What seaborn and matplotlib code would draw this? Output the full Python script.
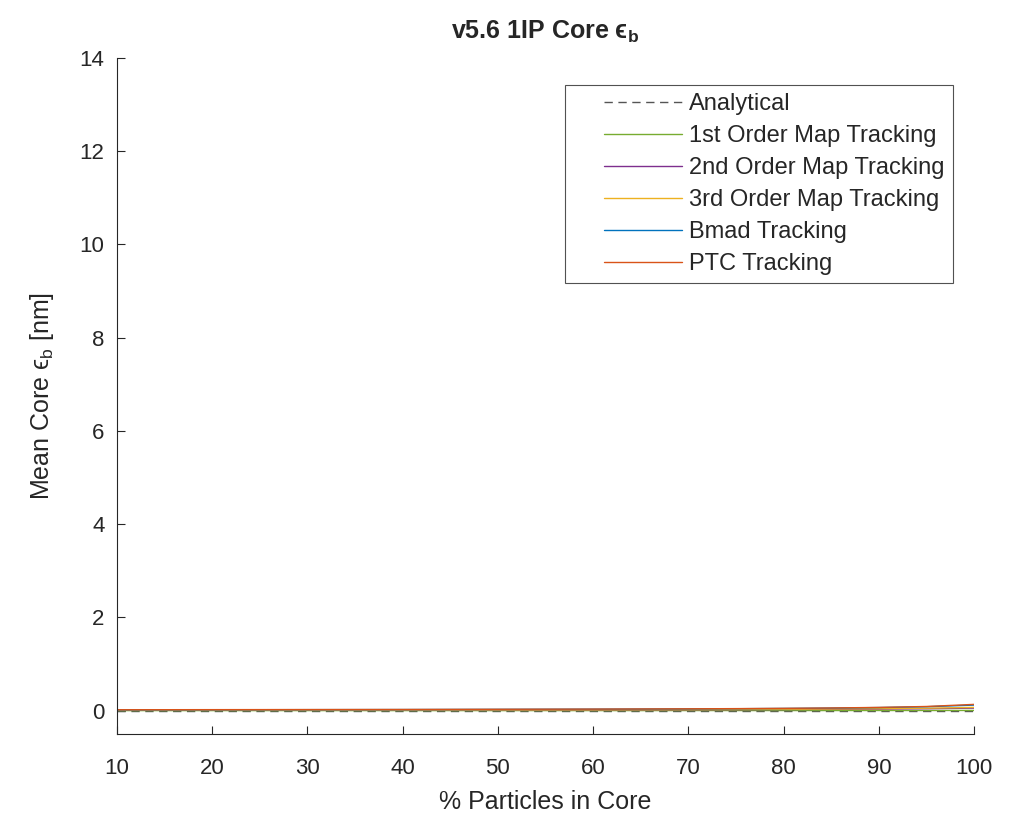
import numpy as np
import pandas as pd
import matplotlib
matplotlib.use("Agg")
import matplotlib.pyplot as plt
from matplotlib.legend_handler import HandlerLine2D
import seaborn as sns

pct = [10, 15, 20, 25, 30, 35, 40, 45, 50, 55, 60, 65, 70, 75, 80, 85, 90, 95, 100]
analytical = [0.000] * 19
first_order = [0.002, 0.002, 0.002, 0.002, 0.002, 0.002, 0.002, 0.002, 0.002, 0.002, 0.002, 0.002, 0.003, 0.003, 0.003, 0.003, 0.004, 0.004, 0.005]
second_order = [0.010, 0.010, 0.011, 0.011, 0.012, 0.012, 0.013, 0.014, 0.015, 0.016, 0.017, 0.018, 0.020, 0.022, 0.025, 0.029, 0.034, 0.042, 0.055]
third_order = [0.012, 0.012, 0.013, 0.013, 0.014, 0.015, 0.016, 0.017, 0.018, 0.019, 0.020, 0.022, 0.024, 0.027, 0.031, 0.036, 0.043, 0.053, 0.070]
bmad = [0.018, 0.019, 0.020, 0.021, 0.022, 0.023, 0.024, 0.026, 0.028, 0.030, 0.032, 0.035, 0.038, 0.042, 0.048, 0.056, 0.067, 0.085, 0.120]
ptc = [0.020, 0.021, 0.022, 0.023, 0.024, 0.025, 0.026, 0.028, 0.030, 0.032, 0.034, 0.037, 0.040, 0.044, 0.050, 0.058, 0.070, 0.090, 0.135]

series = {
    "Analytical": analytical,
    "1st Order Map Tracking": first_order,
    "2nd Order Map Tracking": second_order,
    "3rd Order Map Tracking": third_order,
    "Bmad Tracking": bmad,
    "PTC Tracking": ptc,
}
colors = {
    "Analytical": "#555555",
    "1st Order Map Tracking": "#77AC30",
    "2nd Order Map Tracking": "#7E2F8E",
    "3rd Order Map Tracking": "#EDB120",
    "Bmad Tracking": "#0072BD",
    "PTC Tracking": "#D95319",
}

rows = []
for name, vals in series.items():
    for x, v in zip(pct, vals):
        rows.append({"pct": x, "val": v, "series": name})
df = pd.DataFrame(rows)

sns.set_style("white")
plt.rcParams['font.family'] = ['Liberation Sans', 'DejaVu Sans']
plt.rcParams['mathtext.fontset'] = 'custom'
plt.rcParams['mathtext.rm'] = 'Liberation Sans'
plt.rcParams['mathtext.it'] = 'Liberation Sans:italic'
plt.rcParams['mathtext.bf'] = 'Liberation Sans:bold'
plt.rcParams['mathtext.fallback'] = 'cm'

fig = plt.figure(figsize=(10.12, 8.17), dpi=100)
ax = fig.add_axes([0.1156, 0.1016, 0.8469, 0.8274])

for name in series:
    sub = df[df["series"] == name]
    sns.lineplot(data=sub, x="pct", y="val", ax=ax, color=colors[name],
                 linewidth=1.0, label=name,
                 linestyle=(0, (6, 4)) if name == "Analytical" else "-")

ax.set_xlim(10, 100)
ax.set_ylim(-0.5, 14)
ax.set_xticks(range(10, 101, 10))
ax.set_yticks(range(0, 15, 2))
for s in ["top", "right"]:
    ax.spines[s].set_visible(False)
for s in ["left", "bottom"]:
    ax.spines[s].set_color("#262626")
    ax.spines[s].set_linewidth(0.8)
ax.tick_params(direction="in", length=6, width=0.8, colors="#262626",
               labelsize=16, bottom=True, left=True)
ax.tick_params(axis="x", pad=17)
ax.tick_params(axis="y", pad=9)
ax.set_xlabel("% Particles in Core", fontsize=18, color="#262626", labelpad=8)
ax.set_ylabel("Mean Core \u03f5$_{\\rm b}$ [nm]", fontsize=18, color="#262626", labelpad=17)
ax.set_title("v5.6 1IP Core \u03f5$_{\\mathbf{b}}$", fontsize=18, fontweight="bold", pad=14)

handles, labels = ax.get_legend_handles_labels()
leg = ax.legend(handles, labels, loc="upper right", bbox_to_anchor=(0.9755, 0.960),
                fontsize=17, frameon=True, fancybox=False, handlelength=4.6,
                handletextpad=0.3, borderpad=0.35, labelspacing=0.42, borderaxespad=0,
                handler_map={h: HandlerLine2D(xpad=1.3) for h in handles})
leg.get_frame().set_edgecolor("#262626")
leg.get_frame().set_linewidth(0.8)

fig.savefig("out.png", dpi=100, facecolor="white")
